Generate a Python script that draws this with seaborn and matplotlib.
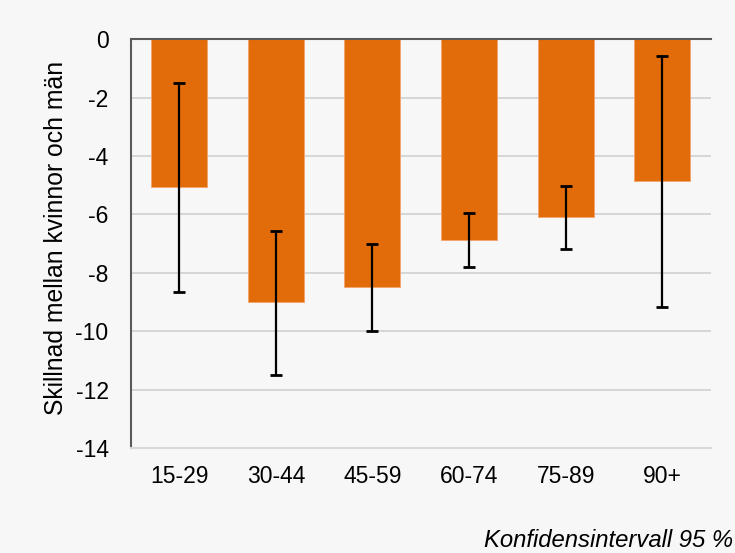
import seaborn as sns
import pandas as pd
import matplotlib.pyplot as plt

age_groups = ['15-29', '30-44', '45-59', '60-74', '75-89', '90+']
diff = [-5.07, -9.0, -8.49, -6.88, -6.10, -4.86]
ci_upper = [-1.51, -6.58, -7.02, -5.96, -5.03, -0.58]
ci_lower = [-8.66, -11.5, -10.0, -7.81, -7.19, -9.18]

df = pd.DataFrame({'age': age_groups, 'diff': diff})

bg = '#F7F7F7'
sns.set_style('white')
plt.rcParams['font.family'] = ['Liberation Sans', 'DejaVu Sans']
plt.rcParams['axes.unicode_minus'] = False
plt.rcParams['text.color'] = 'black'
plt.rcParams['axes.labelcolor'] = 'black'
plt.rcParams['xtick.color'] = 'black'
plt.rcParams['ytick.color'] = 'black'

fig = plt.figure(figsize=(7.35, 5.53), dpi=100, facecolor=bg)
ax = fig.add_axes([0.178, 0.190, 0.789, 0.739])
ax.set_facecolor(bg)

sns.barplot(data=df, x='age', y='diff', color='#E36C0A', saturation=1,
            width=0.58, errorbar=None, edgecolor='#F4A46A', linewidth=0.6,
            ax=ax, zorder=2)

yerr = [[d - lo for d, lo in zip(diff, ci_lower)],
        [hi - d for d, hi in zip(diff, ci_upper)]]
ax.errorbar(range(len(age_groups)), diff, yerr=yerr, fmt='none',
            ecolor='black', elinewidth=1.6, capsize=4.3, capthick=2, zorder=3)

ax.set_ylim(-14, 0)
ax.set_xlim(-0.5, len(age_groups) - 0.5)
ax.set_yticks(range(-14, 1, 2))
ax.yaxis.grid(True, color='#D0D0D0', linewidth=1.2, zorder=0)
ax.set_axisbelow(True)

ax.spines['right'].set_visible(False)
ax.spines['top'].set_color('#595959')
ax.spines['top'].set_linewidth(1.5)
ax.spines['left'].set_color('#595959')
ax.spines['left'].set_linewidth(1.5)
ax.spines['bottom'].set_color('#D9D9D9')
ax.spines['bottom'].set_linewidth(1.5)

ax.tick_params(axis='y', length=0, pad=16, labelsize=16.5)
ax.tick_params(axis='x', length=0, pad=12, labelsize=16.5)
ax.set_xlabel('')
ax.set_ylabel('Skillnad mellan kvinnor och män', fontsize=17.8)
ax.yaxis.set_label_coords(-0.108, 0.513)

fig.text(0.997, 0.011, 'Konfidensintervall 95 %', ha='right', va='baseline',
         fontsize=17.2, style='italic')

fig.savefig('out.png', dpi=100, facecolor=bg)
